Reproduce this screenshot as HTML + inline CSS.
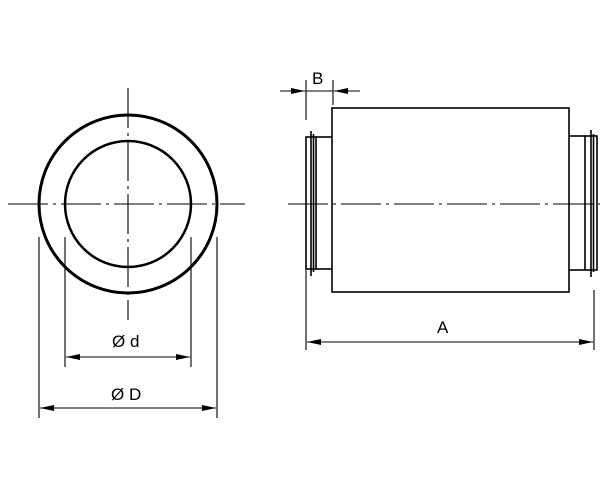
<!DOCTYPE html><html><head><style>body{margin:0;background:#fff}svg{display:block}</style></head><body>
<svg width="616" height="485" xmlns="http://www.w3.org/2000/svg" font-family="Liberation Sans, sans-serif">
<defs><marker id="a" viewBox="0 0 14 6" refX="14" refY="3" markerWidth="14" markerHeight="6" orient="auto-start-reverse" markerUnits="userSpaceOnUse"><path d="M0,0L14,3L0,6z" fill="#000"/></marker></defs>
<g fill="none" stroke="#000">
<circle cx="128" cy="204" r="89" stroke-width="3"/>
<circle cx="128" cy="204" r="63" stroke-width="2.5"/>
<g stroke-width="1.1" stroke-dasharray="40,5,3,5">
<line x1="128" y1="88" x2="128" y2="320"/>
<line x1="8" y1="204" x2="245" y2="204"/>
<line x1="288" y1="204" x2="600" y2="204"/>
</g>
<g stroke-width="1.1">
<line x1="39" y1="237" x2="39" y2="418"/><line x1="217" y1="237" x2="217" y2="418"/>
<line x1="65" y1="237" x2="65" y2="367"/><line x1="191" y1="237" x2="191" y2="367"/>
<line x1="66" y1="357" x2="190" y2="357" marker-start="url(#a)" marker-end="url(#a)"/>
<line x1="40" y1="408" x2="216" y2="408" marker-start="url(#a)" marker-end="url(#a)"/>
<line x1="306" y1="270" x2="306" y2="350"/><line x1="594" y1="290" x2="594" y2="350"/>
<line x1="307" y1="342" x2="593" y2="342" marker-start="url(#a)" marker-end="url(#a)"/>
<line x1="306" y1="80" x2="306" y2="120"/><line x1="333" y1="80" x2="333" y2="105"/>
<line x1="280" y1="91" x2="305" y2="91" marker-end="url(#a)"/>
<line x1="360" y1="91" x2="334" y2="91" marker-end="url(#a)"/>
<line x1="306" y1="91" x2="333" y2="91"/>
</g>
<g stroke-width="1.6">
<rect x="332" y="108" width="237" height="184"/>
<rect x="306" y="137" width="10" height="132"/>
<line x1="311" y1="131" x2="311" y2="276"/><line x1="313.5" y1="134" x2="313.5" y2="272"/>
<line x1="316" y1="137" x2="332" y2="137"/><line x1="316" y1="269" x2="332" y2="269"/>
<rect x="585" y="136" width="12" height="134"/>
<line x1="591" y1="130" x2="591" y2="277"/><line x1="593.5" y1="134" x2="593.5" y2="272"/>
<line x1="569" y1="136" x2="585" y2="136"/><line x1="569" y1="270" x2="585" y2="270"/>
</g>
</g>
<g font-size="17" fill="#000">
<text x="112" y="347">Ø d</text>
<text x="111" y="400">Ø D</text>
<text x="437" y="333">A</text>
<text x="312" y="84">B</text>
</g>
</svg>
</body></html>
